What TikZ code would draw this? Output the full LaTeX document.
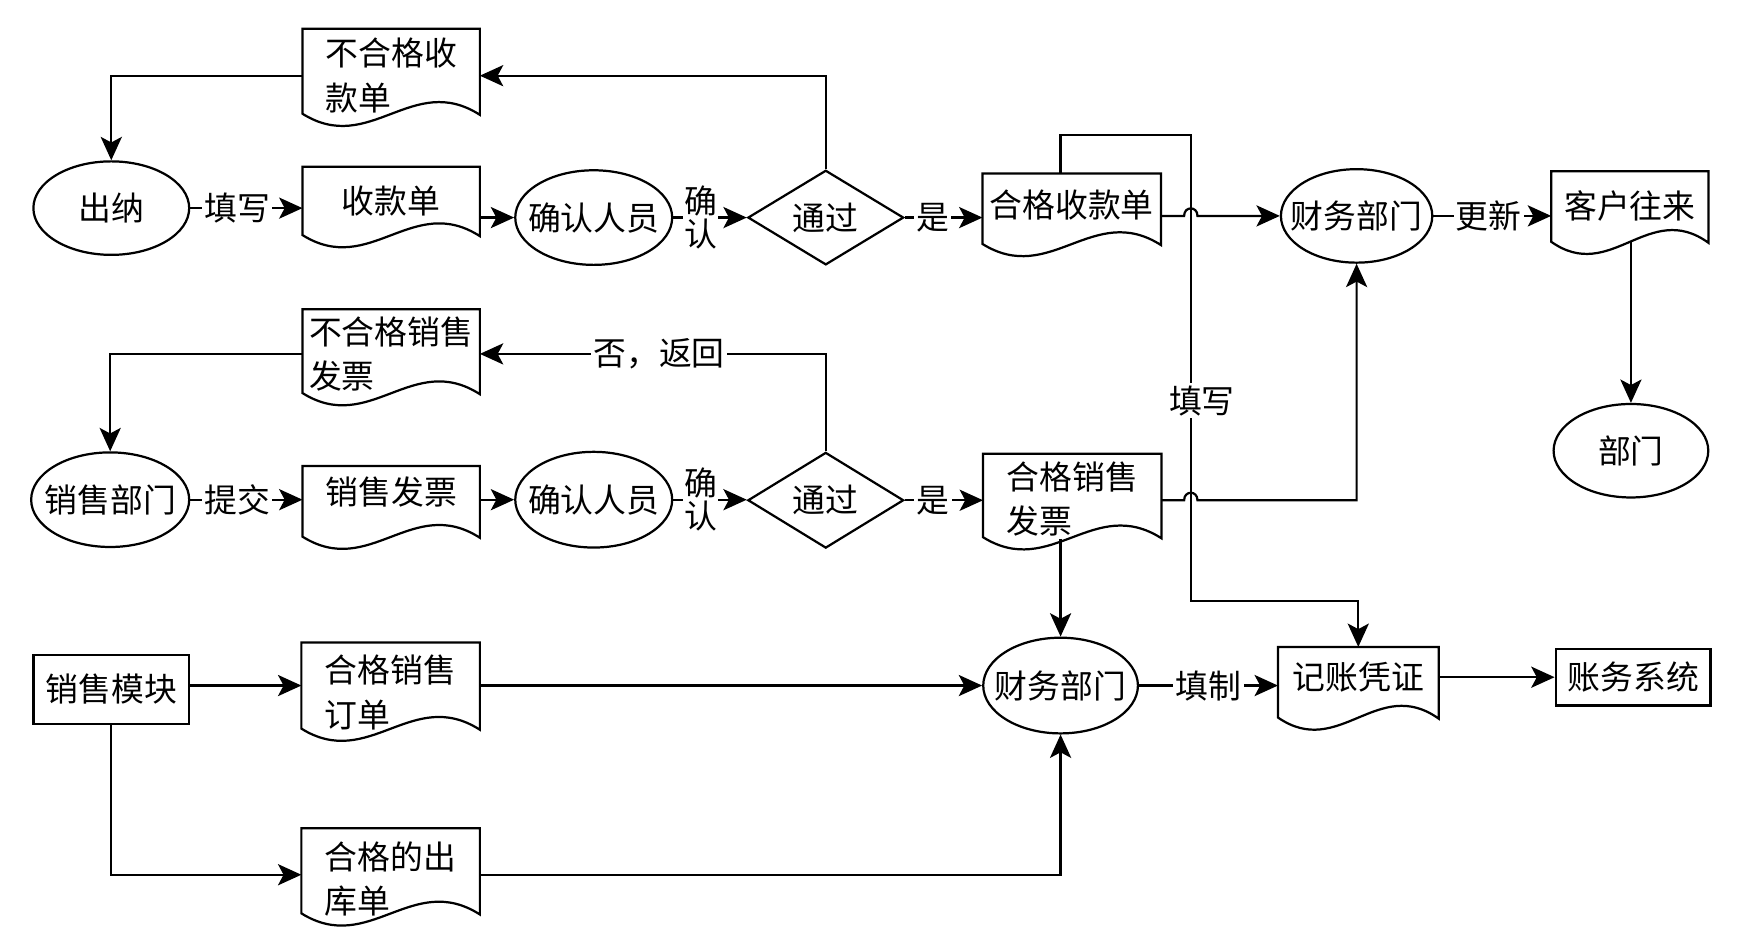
\documentclass[tikz,border=0pt]{standalone}
\usepackage{fontspec}
\newfontfamily\cjk{Noto Sans CJK SC}
\usetikzlibrary{arrows.meta,shapes.geometric,calc}
\newcommand\zw[1]{\makebox[0pt]{#1}}
\newcommand\docshape[2]{%
  \draw[shp] ($(#1.south west)+(0,{-(#2)})$) -- (#1.north west) -- (#1.north east)
    -- ($(#1.south east)+(0,{1-(#2)})$)
    .. controls ($(#1.south west)!0.62!(#1.south east)+(0,{-(#2)-38})$)
    and ($(#1.south west)!0.38!(#1.south east)+(0,{38-(#2)})$)
    .. ($(#1.south west)+(0,{-(#2)})$) -- cycle;}
\begin{document}
\begin{tikzpicture}[x=1pt,y=-1pt,
  font=\cjk\fontsize{29.5}{40}\selectfont,
  shp/.style={line width=2pt, draw=black, line join=miter},
  ell/.style={ellipse, draw, line width=2pt, inner sep=0pt},
  dia/.style={diamond, draw, line width=2pt, inner sep=0pt, minimum width=140, minimum height=86},
  boxnode/.style={rectangle, draw, line width=2.2pt, inner sep=0pt},
  docnode/.style={rectangle, inner sep=0pt, align=left},
  arr/.style={line width=2pt, -{Stealth[length=21pt,width=19pt,inset=5pt]}},
  lbl/.style={fill=white, inner sep=2pt},
  lbltwo/.style={fill=white, inner sep=1pt, align=center, font=\cjk\fontsize{29.5}{30}\selectfont}]
\fill[white] (0,0) rectangle (1568,839);
\useasboundingbox (0,0) rectangle (1568,839);

% row 1
\node[ell, minimum width=140, minimum height=84] (cn) at (100,187) {\zw{出纳}};
\node[docnode, minimum width=159, minimum height=61] (skd) at (351.5,180.5) {收款单};
\node[ell, minimum width=141, minimum height=85] (qr1) at (533.5,195.5) {\zw{确认人员}};
\node[dia, minimum height=85] (tg1) at (742,195.5) {\zw{通过}};
\node[docnode, minimum width=160, minimum height=57] (hgskd) at (963,184.5) {合格收款单};
\node[ell, minimum width=136, minimum height=84] (cw1) at (1219,194) {\zw{财务部门}};
\node[docnode, minimum width=141, minimum height=63] (kh) at (1464.5,185.5) {客户往来};
\node[ell, minimum width=139, minimum height=84] (bm) at (1465.5,405) {\zw{部门}};
\node[docnode, minimum width=159, minimum height=84] (bhg1) at (351.5,68) {不合格收\\款单};

% row 2
\node[docnode, minimum width=159, minimum height=80] (bhgfp) at (351.5,318) {不合格销售\\发票};
\node[ell, minimum width=142, minimum height=85] (xsbm) at (99,449) {\zw{销售部门}};
\node[docnode, minimum width=159, minimum height=47] (xsfp) at (351.5,442.5) {销售发票};
\node[ell, minimum width=141, minimum height=86] (qr2) at (533.5,449) {\zw{确认人员}};
\node[dia] (tg2) at (742,449.5) {\zw{通过}};
\node[docnode, minimum width=160, minimum height=81] (hgfp) at (963.5,448.5) {合格销售\\发票};

% row 3
\node[boxnode, minimum width=140, minimum height=62] (xsmk) at (100,619.5) {销售模块};
\node[docnode, minimum width=160, minimum height=89] (hgdd) at (351,622) {合格销售\\订单};
\node[ell, minimum width=139, minimum height=86] (cw2) at (953,616) {\zw{财务部门}};
\node[docnode, minimum width=144, minimum height=54] (jz) at (1220.5,608.5) {记账凭证};
\node[boxnode, minimum width=139, minimum height=51] (zwxt) at (1467.5,608.5) {账务系统};
\node[docnode, minimum width=160, minimum height=91] (ckd) at (351,790) {合格的出\\库单};

% document outlines
\docshape{skd}{0}
\docshape{hgskd}{-6}
\docshape{kh}{0}
\docshape{bhg1}{8}
\docshape{bhgfp}{5}
\docshape{xsfp}{-16}
\docshape{hgfp}{6.5}
\docshape{hgdd}{12}
\docshape{jz}{-9}
\docshape{ckd}{15}

\coordinate (tA) at (1070,121);
\coordinate (tB) at (1070,540);

% connectors row 1
\draw[arr] (bhg1.west) -| (cn.north);
\draw[arr] (tg1.north) |- (bhg1.east);
\draw[arr] (cn.east) -- node[lbl,pos=0.42] (l1) {填写} (cn.east -| skd.west);
\draw[arr] (skd.east |- qr1.west) -- (qr1.west);
\draw[arr] (qr1.east) -- node[lbltwo,pos=0.37] (l2) {确\\认} (tg1.west);
\draw[arr] (tg1.east) -- node[lbl,pos=0.36] (l3) {是} (tg1.east -| hgskd.west);
\draw[arr] (hgskd.east |- cw1.west) -- (1064,194) .. controls (1064,185) and (1076,185) .. (1076,194) -- (cw1.west);
\draw[arr] (cw1.east) -- node[lbl,pos=0.47] (l4) {更新} (cw1.east -| kh.west);
\draw[arr] (kh.south -| bm.north) -- (bm.north);
\draw[arr] (cw2.north |- hgskd.north) |- (tA) -- (tB) -| (jz.north);
\node[lbl] (l5) at (1080,360) {填写};

% connectors row 2
\draw[arr] (bhgfp.west) -| (xsbm.north);
\draw[arr] (tg2.north) |- node[lbl,pos=0.741] (l6) {否，返回} (bhgfp.east);
\draw[arr] (xsbm.east) -- node[lbl,pos=0.42] (l7) {提交} (xsbm.east -| xsfp.west);
\draw[arr] (xsfp.east |- qr2.west) -- (qr2.west);
\draw[arr] (qr2.east) -- node[lbltwo,pos=0.37] (l8) {确\\认} (qr2.east -| tg2.west);
\draw[arr] (tg2.east) -- node[lbl,pos=0.36] (l9) {是} (tg2.east -| hgfp.west);
\draw[arr] (hgfp.east |- tg2.east) -- (1064,449.5) .. controls (1064,440.5) and (1076,440.5) .. (1076,449.5) -| (cw1.south);
\draw[arr] ($(hgfp.south -| cw2.north)+(0,-5)$) -- (cw2.north);

% connectors row 3
\draw[arr] (xsmk.east |- cw2.west) -- (hgdd.west |- cw2.west);
\draw[arr] (hgdd.east |- cw2.west) -- (cw2.west);
\draw[arr] (cw2.east) -- node[lbl,pos=0.5] (l10) {填制} (cw2.east -| jz.west);
\draw[arr] (jz.east |- zwxt.west) -- (zwxt.west);
\draw[arr] (xsmk.south) |- ($(ckd.west)+(0,-4)$);
\draw[arr] ($(ckd.east)+(0,-4)$) -| (cw2.south);
\end{tikzpicture}
\end{document}
